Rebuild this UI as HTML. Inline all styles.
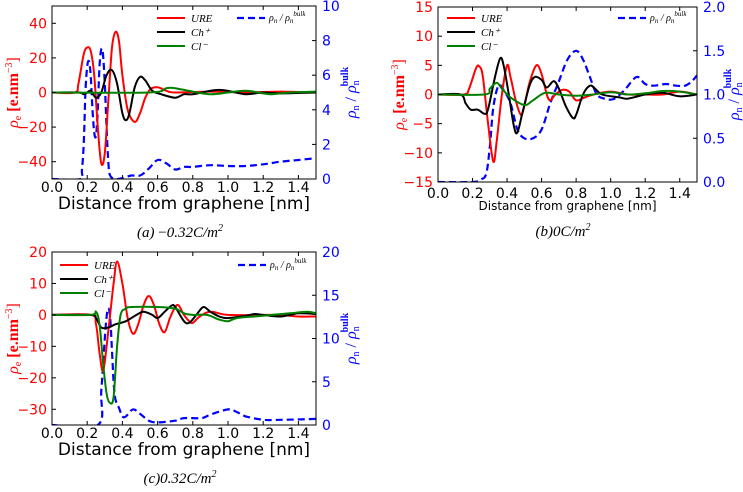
<!DOCTYPE html>
<html><head><meta charset="utf-8"><style>
body{margin:0;background:#fff;width:743px;height:487px;overflow:hidden}
svg{font-family:"DejaVu Sans","Liberation Sans",sans-serif}
.cap{font-family:"Liberation Serif",serif;font-style:italic;font-size:15px}
</style></head><body>
<svg id="fig" width="743" height="487" viewBox="0 0 743 487" xmlns="http://www.w3.org/2000/svg"></svg>
<script>
// Panel (a) data
const aUreX=[0,0.13,0.15,0.18,0.2,0.22,0.24,0.26,0.28,0.3,0.32,0.34,0.36,0.38,0.4,0.43,0.47,0.5,0.53,0.56,0.6,0.65,0.7,0.9,1.1,1.3,1.5];
const aUreY=[0,0,5,22,26,24,10,-20,-41,-35,-5,25,35,30,10,-10,-17,-12,-3,2,3,1,0,0.5,0,0.5,0];
const aChX=[0,0.15,0.18,0.2,0.22,0.25,0.28,0.31,0.34,0.37,0.4,0.42,0.44,0.47,0.5,0.53,0.57,0.62,0.7,0.75,0.8,0.9,0.95,1.0,1.1,1.2,1.3,1.5];
const aChY=[0,0,-1,0,1,-3,0,10,13,5,-12,-16,-12,3,9,7,1,-1,-3,-1,-1,1,1.5,1,-1,0,-0.5,0];
const aClX=[0,0.55,0.65,0.7,0.8,0.9,1.0,1.1,1.2,1.25,1.35,1.5];
const aClY=[0,0,2.5,2.5,0.5,-1,0,1,-0.5,-1,0,0.5];
const aBlX=[0,0.16,0.17,0.18,0.19,0.2,0.21,0.22,0.23,0.24,0.25,0.26,0.27,0.28,0.29,0.3,0.31,0.32,0.33,0.36,0.4,0.45,0.5,0.55,0.6,0.65,0.7,0.75,0.8,0.9,1.0,1.1,1.2,1.3,1.4,1.5];
const aBlY=[0,0,0.5,2,5,6.5,6.8,6,4,2.7,2.5,4,6.5,7.5,7.2,5.5,3,1,0.2,0,0.05,0.2,0.2,0.6,1.1,0.9,0.55,0.7,0.7,0.8,0.75,0.75,0.85,1.0,1.1,1.2];
// Panel (b) data
const bUreX=[0,0.15,0.18,0.22,0.24,0.26,0.29,0.32,0.34,0.37,0.4,0.42,0.45,0.48,0.5,0.53,0.57,0.6,0.63,0.65,0.68,0.72,0.76,0.8,0.85,0.9,1.0,1.1,1.2,1.3,1.4,1.5];
const bUreY=[0,0,1,4.5,4.8,3,-5,-11.5,-8,0,5,3,-1,-3.5,-2,2,5,3.5,0,-1,0,0.8,0.5,-1,-0.5,0,0.5,0,0,0,0.5,0];
const bChX=[0,0.13,0.16,0.19,0.23,0.27,0.29,0.33,0.36,0.38,0.41,0.44,0.46,0.49,0.53,0.56,0.6,0.63,0.67,0.7,0.74,0.78,0.8,0.84,0.88,0.91,0.95,1.05,1.1,1.2,1.3,1.4,1.5];
const bChY=[0,0,-1.5,-2.6,-2.6,-3.3,-2.5,3,6.2,5,0,-5.5,-6.5,-3,1.5,3,2.5,1.2,2.3,1,-2,-4,-3.5,0,1.5,1,0,-0.5,-0.7,0,0.3,-0.3,0];
const bClX=[0,0.27,0.3,0.34,0.37,0.42,0.5,0.55,0.62,0.7,0.8,0.9,1.0,1.1,1.2,1.3,1.4,1.5];
const bClY=[0,0,1,2,1,-0.5,-1.8,-1,0.3,0,-0.2,0,0.4,0,0.2,0.6,0.5,0];
const bBlX=[0,0.2,0.25,0.28,0.3,0.32,0.35,0.38,0.42,0.46,0.5,0.55,0.6,0.65,0.7,0.75,0.8,0.84,0.88,0.92,0.97,1.02,1.08,1.15,1.2,1.25,1.32,1.38,1.43,1.47,1.5];
const bBlY=[0,0,0.03,0.1,0.4,0.85,1.1,1.05,0.9,0.6,0.5,0.5,0.6,0.9,1.15,1.4,1.5,1.4,1.2,1.0,0.95,0.95,1.05,1.2,1.12,1.1,1.12,1.1,1.1,1.15,1.22];
// Panel (c) data
const cUreX=[0,0.22,0.25,0.27,0.29,0.31,0.33,0.35,0.37,0.4,0.43,0.46,0.49,0.52,0.55,0.58,0.61,0.64,0.67,0.7,0.72,0.75,0.78,0.8,0.84,0.9,1.0,1.2,1.3,1.4,1.5];
const cUreY=[0,0,-3,-12,-18,-10,0,10,17,10,-1,-6,-3,3,6,3,-3,-5.5,-1,2.5,3,0,-2,-2.5,-0.5,1,0,0,0,-0.5,-0.5];
const cChX=[0,0.22,0.25,0.28,0.32,0.36,0.42,0.48,0.52,0.57,0.6,0.64,0.68,0.7,0.75,0.78,0.82,0.86,0.9,0.95,1.0,1.1,1.15,1.2,1.3,1.4,1.5];
const cChY=[0,0,-1,-4,-4,-3,-2,0,1,0,-1,1,3,2.5,-2,-2.5,0,2.5,1,-0.5,-1,-0.3,0.3,0,-0.5,0.5,0.3];
const cClX=[0,0.22,0.25,0.27,0.29,0.31,0.33,0.35,0.37,0.39,0.42,0.45,0.6,0.7,0.75,0.8,0.88,0.95,1.0,1.05,1.15,1.25,1.35,1.45,1.5];
const cClY=[0,0,1,-3,-15,-25,-28,-26,-10,0,2,2.5,2.5,2,0.5,0,0,-1.5,-2,-1,-0.5,0,0.5,1,0.5];
const cBlX=[0,0.26,0.28,0.3,0.31,0.32,0.33,0.34,0.35,0.36,0.38,0.4,0.42,0.46,0.5,0.55,0.6,0.7,0.75,0.85,0.9,1.0,1.05,1.1,1.2,1.3,1.5];
const cBlY=[0,0,4,10,12.5,13.5,12.5,9,5,3,2,1,1,1.8,1.3,0.5,0.3,0.5,0.8,0.8,1.2,1.8,1.5,1.0,0.6,0.6,0.7];
const xTicks=[0.0,0.2,0.4,0.6,0.8,1.0,1.2,1.4];
const aLeftTicks=[-40,-20,0,20,40], aRightTicks=[0,2,4,6,8,10];
const bLeftTicks=[-15,-10,-5,0,5,10,15], bRightTicks=[0.0,0.5,1.0,1.5,2.0];
const cLeftTicks=[-30,-20,-10,0,10,20], cRightTicks=[0,5,10,15,20];

const NS="http://www.w3.org/2000/svg", svg=document.getElementById('fig');
function mk(tag,attrs,parent,text){const e=document.createElementNS(NS,tag);for(const k in attrs)e.setAttribute(k,attrs[k]);if(text!==undefined)e.textContent=text;(parent||svg).appendChild(e);return e;}
function smooth(pts){let d='M'+pts[0][0].toFixed(1)+','+pts[0][1].toFixed(1);for(let i=0;i<pts.length-1;i++){const p0=pts[i-1]||pts[i],p1=pts[i],p2=pts[i+1],p3=pts[i+2]||p2;const c1=[p1[0]+(p2[0]-p0[0])/6,p1[1]+(p2[1]-p0[1])/6],c2=[p2[0]-(p3[0]-p1[0])/6,p2[1]-(p3[1]-p1[1])/6];d+=' C'+c1[0].toFixed(1)+','+c1[1].toFixed(1)+' '+c2[0].toFixed(1)+','+c2[1].toFixed(1)+' '+p2[0].toFixed(1)+','+p2[1].toFixed(1);}return d;}

function panel(o){
  const g=mk('g',{});
  
  
  const sx=v=>o.x0+(v-0)/1.5*(o.x1-o.x0);
  const syL=v=>o.yb+(v-o.lmin)/(o.lmax-o.lmin)*(o.yt-o.yb);
  const syR=v=>o.yb+(v-o.rmin)/(o.rmax-o.rmin)*(o.yt-o.yb);
  const cid='clip'+o.name;
  const cp=mk('clipPath',{id:cid},g);mk('rect',{x:o.x0,y:o.yt,width:o.x1-o.x0,height:o.yb-o.yt},cp);
  const series=[[o.ure,'#ff0000',syL,'ure-line'],[o.ch,'#000000',syL,'ch-line'],[o.cl,'#008000',syL,'cl-line']];
  const bl=mk('path',{d:smooth(o.bl[0].map((x,i)=>[sx(x),syR(o.bl[1][i])])),fill:'none',stroke:'#0000ff','stroke-width':2.2,'stroke-dasharray':'7,4','clip-path':'url(#'+cid+')'},g);
  
  
  series.forEach(s=>{const p=mk('path',{d:smooth(s[0][0].map((x,i)=>[sx(x),s[2](s[0][1][i])])),fill:'none',stroke:s[1],'stroke-width':2,'clip-path':'url(#'+cid+')'},g);
    
    });
  mk('rect',{x:o.x0,y:o.yt,width:o.x1-o.x0,height:o.yb-o.yt,fill:'none',stroke:'#000','stroke-width':1},g);
  xTicks.forEach(t=>{const X=sx(t);mk('line',{x1:X,x2:X,y1:o.yb,y2:o.yb-4,stroke:'#000'},g);mk('line',{x1:X,x2:X,y1:o.yt,y2:o.yt+4,stroke:'#000'},g);
    const tx=mk('text',{x:X,y:o.yb+(o.small?16:13),'text-anchor':'middle','font-size':14,fill:'#000'},g,t.toFixed(1));
    
    });
  o.lt.forEach(t=>{const Y=syL(t);mk('line',{x1:o.x0,x2:o.x0+4,y1:Y,y2:Y,stroke:'#000'},g);
    const tx=mk('text',{x:o.x0-5,y:Y+5,'text-anchor':'end','font-size':14,fill:'#ff0000'},g,t<0?'\u2212'+(-t):String(t));
    
    });
  o.rt.forEach(t=>{const Y=syR(t);mk('line',{x1:o.x1,x2:o.x1-4,y1:Y,y2:Y,stroke:'#000'},g);
    const tx=mk('text',{x:o.x1+6,y:Y+5,'text-anchor':'start','font-size':14,fill:'#0000ff'},g,o.rfix?t.toFixed(1):String(t));
    
    });
  const xl=mk('text',{x:(o.x0+o.x1)/2,y:o.yb+(o.small?28:30),'text-anchor':'middle','font-size':o.small?12:17},g,'Distance from graphene [nm]');
  
  
  const ym=(o.yt+o.yb)/2;
  const yl=mk('text',{transform:'translate('+(o.x0-34)+','+ym+') rotate(-90)','text-anchor':'middle','font-size':16,fill:'#ff0000','font-family':'Liberation Serif,serif'},g);
  yl.innerHTML='<tspan font-style="italic">ρ</tspan><tspan font-size="10" dy="3">e</tspan><tspan dy="-3" font-weight="bold"> [e.nm</tspan><tspan font-size="10" dy="-6">−3</tspan><tspan dy="6">]</tspan>';
  
  
  const yr=mk('text',{transform:'translate('+(o.x1+(o.rfix?42:40))+','+ym+') rotate(-90)','text-anchor':'middle','font-size':16,fill:'#0000ff','font-family':'Liberation Serif,serif'},g);
  yr.innerHTML='<tspan font-style="italic">ρ</tspan><tspan font-size="10" dy="3">n</tspan><tspan dy="-3"> / </tspan><tspan font-style="italic">ρ</tspan><tspan font-size="10" dy="3">n</tspan><tspan font-size="10" font-weight="bold" dy="-11" dx="-6">bulk</tspan>';
  
  
  const L=o.leg;const labels=[['URE','#ff0000'],['Ch⁺','#000'],['Cl⁻','#008000']];
  labels.forEach((l,i)=>{const y=L.y+i*14;mk('line',{x1:L.x,x2:L.x+28,y1:y,y2:y,stroke:l[1],'stroke-width':2},g);
    const t=mk('text',{x:L.x+34,y:y+4,'font-size':11,'font-style':'italic','font-family':'Liberation Serif,serif'},g,l[0]);
    
    });
  mk('line',{x1:L.bx,x2:L.bx+28,y1:L.y,y2:L.y,stroke:'#0000ff','stroke-width':2.2,'stroke-dasharray':'7,4'},g);
  const bt=mk('text',{x:L.bx+32,y:L.y+3,'font-size':10,'font-style':'italic','font-family':'Liberation Serif,serif'},g);
  bt.innerHTML='ρ<tspan font-size="7" dy="2">n</tspan><tspan dy="-2"> / ρ</tspan><tspan font-size="7" dy="2">n</tspan><tspan font-size="7" dy="-7">bulk</tspan>';
  
  
  const cap=mk('text',{x:o.capx,y:o.capy,'text-anchor':'middle',class:'cap'},g);
  cap.innerHTML=o.cap;
  
  
}
panel({name:'panel-a',x0:52,x1:316,yt:6,yb:179,lmin:-50,lmax:50,rmin:0,rmax:10,lt:aLeftTicks,rt:aRightTicks,
  ure:[aUreX,aUreY],ch:[aChX,aChY],cl:[aClX,aClY],bl:[aBlX,aBlY],leg:{x:157,y:18,bx:237},capx:180,capy:237,
  cap:'(<tspan>a</tspan>) <tspan font-style="normal">−</tspan>0.32<tspan>C</tspan>/<tspan>m</tspan><tspan font-size="10" dy="-6">2</tspan>'});
panel({name:'panel-b',x0:438,x1:697,yt:7,yb:182,lmin:-15,lmax:15,rmin:0,rmax:2,lt:bLeftTicks,rt:bRightTicks,rfix:true,small:true,
  ure:[bUreX,bUreY],ch:[bChX,bChY],cl:[bClX,bClY],bl:[bBlX,bBlY],leg:{x:447,y:18,bx:618},capx:563,capy:236,
  cap:'(<tspan>b</tspan>)0<tspan>C</tspan>/<tspan>m</tspan><tspan font-size="10" dy="-6">2</tspan>'});
panel({name:'panel-c',x0:52,x1:316,yt:252,yb:425,lmin:-35,lmax:20,rmin:0,rmax:20,lt:cLeftTicks,rt:cRightTicks,
  ure:[cUreX,cUreY],ch:[cChX,cChY],cl:[cClX,cClY],bl:[cBlX,cBlY],leg:{x:60,y:265,bx:238},capx:180,capy:483,
  cap:'(<tspan>c</tspan>)0.32<tspan>C</tspan>/<tspan>m</tspan><tspan font-size="10" dy="-6">2</tspan>'});
</script>
</body></html>
